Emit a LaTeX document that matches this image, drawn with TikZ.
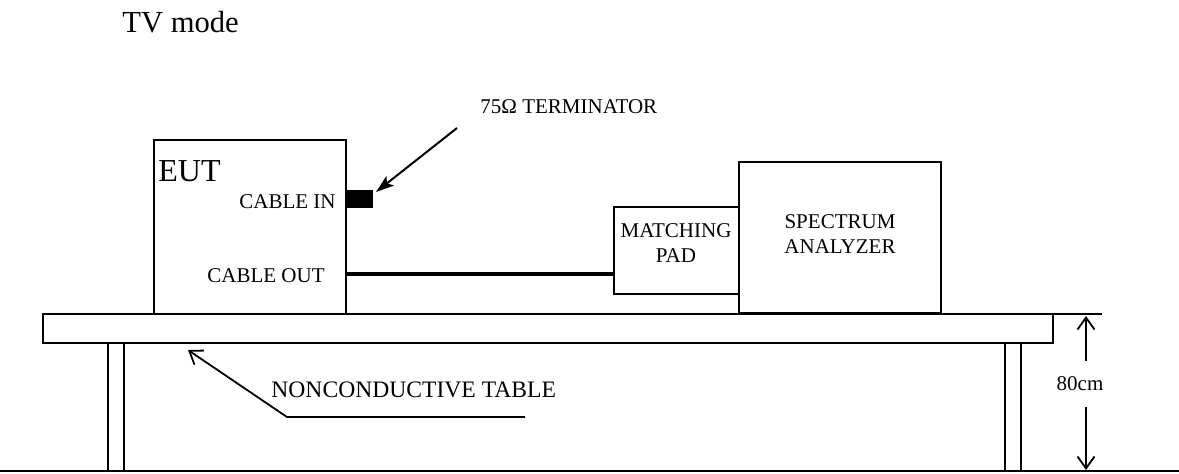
\documentclass[tikz,border=0pt]{standalone}
\usepackage{fontspec}
\setmainfont{Liberation Serif}
\usetikzlibrary{arrows.meta}
\begin{document}
\begin{tikzpicture}[x=0.5pt,y=-0.5pt,
  box/.style={draw, line width=1pt, inner sep=0pt, outer sep=0pt},
  lbl/.style={font=\fontsize{10.5}{12}\selectfont, inner sep=0pt},
  thinline/.style={line width=1pt},
  barb/.style={line width=0.9pt, -{Straight Barb[length=6pt,width=8.5pt]}},
  termarrow/.style={line width=1pt, -{Stealth[length=9pt,width=6pt,inset=2pt]}},
  cable/.style={line width=1.7pt}]
\useasboundingbox (0,0) rectangle (1179,473);
% title
\node[inner sep=0pt, anchor=base west, font=\fontsize{15.3}{17}\selectfont] (title) at (122,32) {TV mode};
% EUT
\node[box, minimum width=96.25pt, minimum height=87pt] (eut) at (249.75,227) {};
\node[inner sep=0pt, anchor=base west, font=\fontsize{16}{18}\selectfont] (euttxt) at (158,181) {EUT};
\node[lbl, anchor=base east] (cin) at (336,208) {CABLE IN};
\node[lbl, anchor=base west] (cout) at (207,282) {CABLE OUT};
% terminator
\node[box, fill=black, line width=0.6pt, minimum width=13pt, minimum height=8pt] (term) at (359,199) {};
\node[lbl, anchor=base west] (termtxt) at (480,113) {75Ω TERMINATOR};
\coordinate (termtail) at (457,128);
\draw[termarrow] (termtail) -- ([shift={(4,1)}]term.north east);
% matching pad
\node[box, minimum width=62.5pt, minimum height=43.5pt] (pad) at (676.5,250.5) {};
\node[lbl, anchor=base] (pad1) at (676,237) {MATCHING};
\node[lbl, anchor=base] (pad2) at (676,262) {PAD};
% spectrum analyzer
\node[box, minimum width=101pt, minimum height=75.5pt] (sa) at (840,237.5) {};
\node[lbl, anchor=base] (sa1) at (840,228) {SPECTRUM};
\node[lbl, anchor=base] (sa2) at (840,253) {ANALYZER};
% cable
\coordinate (cabley) at (0,274);
\draw[cable] (eut.east |- cabley) -- (pad.west |- cabley);
% table
\node[box, minimum width=505pt, minimum height=14.5pt] (table) at (548,328.5) {};
\draw[thinline] (108,343) -- (108,471);
\draw[thinline] (124,343) -- (124,471);
\draw[thinline] (1005,343) -- (1005,471);
\draw[thinline] (1021,343) -- (1021,471);
% floor
\coordinate (floorL) at (0,471);
\coordinate (floorR) at (1179,471);
\draw[thinline] (floorL) -- (floorR);
% table label
\coordinate (tabtip) at (188,350);
\coordinate (tabcorner) at (287,417);
\coordinate (tabend) at (525,417);
\draw[barb] (tabend) -- (tabcorner) -- (tabtip);
\node[inner sep=0pt, anchor=base west, font=\fontsize{11.8}{13}\selectfont] (tabtxt) at (271,397) {NONCONDUCTIVE TABLE};
% height dimension
\coordinate (ext) at (1102,314);
\draw[thinline] (table.north east) -- (ext);
\node[lbl, minimum height=23pt] (dim) at (1080,384) {80cm};
\coordinate (dimtop) at (1086,316);
\coordinate (dimbot) at (1086,470);
\draw[barb] (dim.north -| dimtop) -- (dimtop);
\draw[barb] (dim.south -| dimbot) -- (dimbot);
\end{tikzpicture}
\end{document}
